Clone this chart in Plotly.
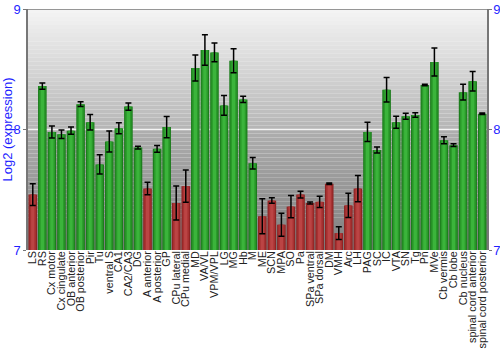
import plotly.graph_objects as go

regions = [
    "LS", "RS", "Cx motor", "Cx cingulate", "OB anterior", "OB posterior", "Pir", "Tu",
    "ventral S", "CA1", "CA2/CA3", "DG", "A anterior", "A posterior", "GP", "CPu lateral",
    "CPu medial", "MD", "VA/VL", "VPM/VPL", "LG", "MG", "Hb", "M", "ME", "SCN", "MPA", "SO",
    "Pa", "SPa ventral", "SPa dorsal", "DM", "VMH", "Arc", "LH", "PAG", "SC", "IC", "VTA",
    "SN", "Tg", "Pn", "MVe", "Cb vermis", "Cb lobe", "Cb nucleus", "spinal cord anterior",
    "spinal cord posterior",
]
expression = [
    7.46, 8.36, 7.98, 7.96, 7.99, 8.21, 8.06, 7.71,
    7.90, 8.01, 8.19, 7.85, 7.51, 7.84, 8.02, 7.39,
    7.53, 8.51, 8.66, 8.64, 8.20, 8.57, 8.25, 7.72, 7.28, 7.41, 7.21, 7.36,
    7.46, 7.39, 7.40, 7.55, 7.14, 7.37, 7.51, 7.98, 7.83, 8.33, 8.06,
    8.11, 8.12, 8.37, 8.56, 7.91, 7.87, 8.31, 8.40,
    8.13,
]
std_err = [
    0.09, 0.025, 0.05, 0.035, 0.03, 0.02, 0.065, 0.08,
    0.087, 0.045, 0.03, 0.012, 0.052, 0.028, 0.088, 0.142,
    0.133, 0.108, 0.127, 0.077, 0.082, 0.10, 0.025, 0.047, 0.145, 0.023, 0.095, 0.093,
    0.028, 0.008, 0.047, 0.007, 0.052, 0.10, 0.109, 0.08, 0.024, 0.101, 0.05,
    0.025, 0.018, 0.006, 0.117, 0.029, 0.011, 0.065, 0.081,
    0.006,
]
low_cutoff = 7.6

Y_MIN, Y_MAX = 7, 9
blue = "#1f1fff"
axis_grey = "#777777"

def shade(v, palette):
    return palette[0] if v < low_cutoff else palette[1]

# three stacked-width layers give each bar a darker rim and a bright core
layers = [
    (0.90, ("#8e2424", "#1c7c1c"), "y"),
    (0.66, ("#a83232", "#2a9a2a"), "y"),
    (0.34, ("#bb4444", "#3bb43b"), "y2"),
]

fig = go.Figure()
for i, (w, pal, yax) in enumerate(layers):
    top = i == len(layers) - 1
    fig.add_trace(go.Bar(
        x=regions, y=[v - Y_MIN for v in expression], base=Y_MIN,
        width=w, yaxis=yax,
        marker=dict(color=[shade(v, pal) for v in expression], line=dict(width=0)),
        error_y=dict(type="data", array=std_err, visible=top, color="black",
                     thickness=1.5, width=3),
        hoverinfo="x+y" if top else "skip",
        showlegend=False,
    ))

# vertical grey gradient behind the bars
shapes = []
n = 60
for k in range(n):
    t = k / n
    if t < 0.5:
        g = 244 - (244 - 180) * (t / 0.5)
    else:
        g = 174 - (174 - 126) * ((t - 0.5) / 0.5)
    g = int(round(g))
    y1 = Y_MAX - (Y_MAX - Y_MIN) * t
    y0 = Y_MAX - (Y_MAX - Y_MIN) * (k + 1) / n
    shapes.append(dict(type="rect", xref="paper", yref="y", x0=0, x1=1, y0=y0, y1=y1,
                       fillcolor=f"rgb({g},{g},{g})", line=dict(width=0), layer="below"))
shapes.append(dict(type="line", xref="paper", yref="y", x0=0, x1=1, y0=8, y1=8,
                   line=dict(color="#f4f4f4", width=1.5), layer="below"))
shapes.append(dict(type="line", xref="paper", yref="y", x0=0, x1=1, y0=9, y1=9,
                   line=dict(color=axis_grey, width=1.5), layer="above"))

y_common = dict(range=[Y_MIN, Y_MAX], tickvals=[7, 8, 9], ticks="outside", ticklen=3,
                tickcolor=axis_grey, showline=True, linecolor=axis_grey, linewidth=1.5,
                showgrid=False, zeroline=False, tickfont=dict(size=13, color=blue),
                automargin=False, fixedrange=True)

fig.update_layout(
    width=500, height=350,
    margin=dict(l=28, r=13, t=9, b=100),
    paper_bgcolor="white", plot_bgcolor="rgba(0,0,0,0)",
    barmode="overlay", bargap=0.1,
    shapes=shapes,
    font=dict(family="Liberation Sans, Arial, sans-serif", color="#222222"),
    xaxis=dict(tickmode="linear", dtick=1, tickangle=-90, ticklabelstandoff=-2,
               tickfont=dict(size=10.8, color="#222222"), ticks="",
               showline=False, showgrid=False, automargin=False),
    yaxis=dict(**y_common,
               title=dict(text="Log2 (expression)", font=dict(size=13, color=blue),
                          standoff=4)),
    yaxis2=dict(**y_common, overlaying="y", side="right", ticklabelstandoff=-1),
)

fig.write_html("out.html")
